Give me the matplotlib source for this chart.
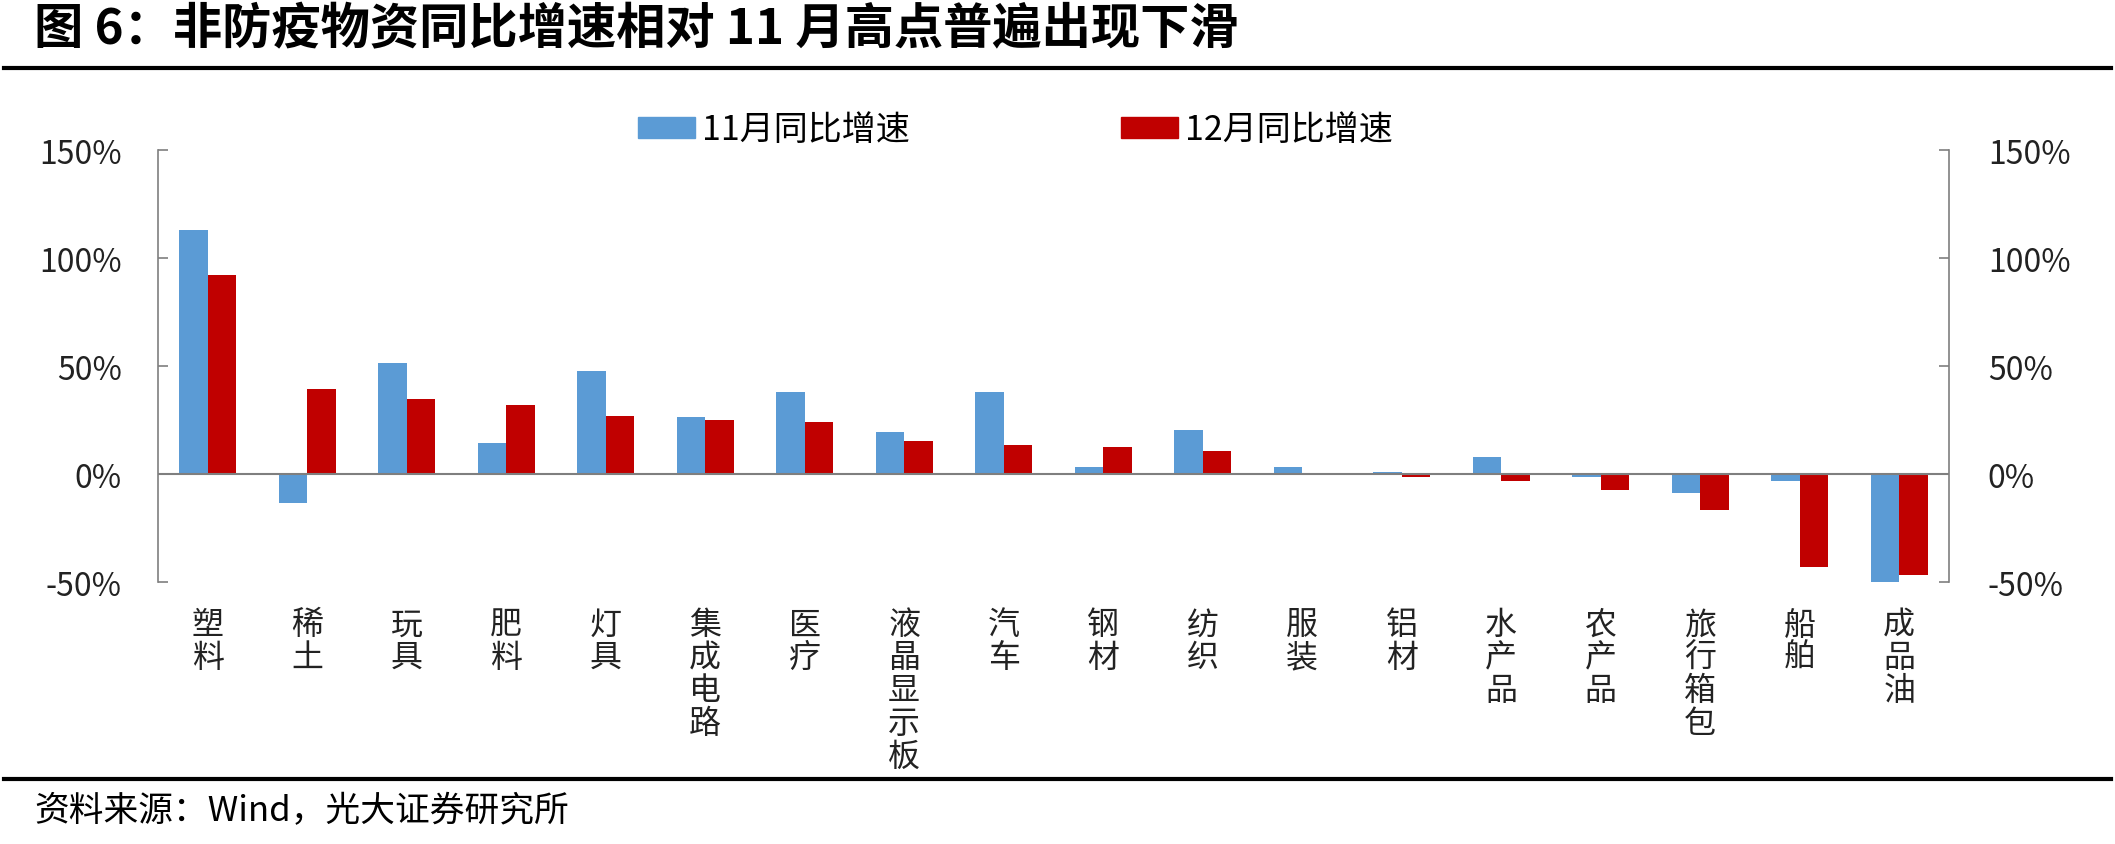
import numpy as np
import matplotlib
matplotlib.use('Agg')
from matplotlib import pyplot as plt
from matplotlib.patches import Patch

plt.rcParams['font.family'] = ['Noto Sans CJK SC', 'DejaVu Sans']

categories = ['塑料', '稀土', '玩具', '肥料', '灯具', '集成电路', '医疗', '液晶显示板', '汽车',
              '钢材', '纺织', '服装', '铝材', '水产品', '农产品', '旅行箱包', '船舶', '成品油']
nov_yoy = [113.2, -13.2, 51.6, 14.3, 47.6, 26.5, 37.8, 19.4, 37.8,
           3.4, 20.6, 3.4, 1.1, 7.9, -1.2, -8.7, -3.1, -51.2]
dec_yoy = [92.1, 39.4, 35.0, 32.2, 27.1, 25.1, 24.0, 15.5, 13.5,
           12.4, 10.9, 0.2, -1.4, -3.1, -7.4, -16.4, -42.8, -46.7]
series_names = ['11月同比增速', '12月同比增速']
yticks = [-50, 0, 50, 100, 150]

blue = '#5B9BD5'
red = '#C00000'
gray = '#7f7f7f'
fs = 23

fig = plt.figure(figsize=(21.15, 8.45), dpi=100)
ax = fig.add_axes([0.0747, 0.310, 0.8468, 0.511])

ind = np.arange(len(categories))
w = 0.285
ax.bar(ind - w / 2, nov_yoy, width=w, color=blue)
ax.bar(ind + w / 2, dec_yoy, width=w, color=red)
ax.axhline(0, color=gray, lw=1.5)

ax.set_xlim(-0.5, len(categories) - 0.5)
ax.set_ylim(-50, 150)
ax.set_yticks(yticks)
ax.set_yticklabels(['%d%%' % t for t in yticks])
ax.set_xticks(ind)
ax.set_xticklabels(['\n'.join(c) for c in categories], va='top', linespacing=1.03)
ax.tick_params(axis='x', length=0, pad=19, labelsize=fs, colors='#222222')
ax.tick_params(axis='y', direction='in', length=7, width=1.2, color=gray,
               pad=26, labelsize=fs, labelcolor='#222222')
for s in ['top', 'bottom', 'right']:
    ax.spines[s].set_visible(False)
ax.spines['left'].set_color(gray)
ax.spines['left'].set_linewidth(1.2)

ax2 = ax.twinx()
ax2.set_ylim(-50, 150)
ax2.set_yticks(yticks)
ax2.set_yticklabels(['%d%%' % t for t in yticks])
ax2.tick_params(axis='y', direction='in', length=7, width=1.2, color=gray,
                pad=28, labelsize=fs, labelcolor='#222222')
for s in ['top', 'bottom', 'left']:
    ax2.spines[s].set_visible(False)
ax2.spines['right'].set_color(gray)
ax2.spines['right'].set_linewidth(1.2)

handles = [Patch(color=blue), Patch(color=red)]
fig.legend(handles, series_names, loc='center left', bbox_to_anchor=(0.3017, 0.845),
           ncol=2, frameon=False, fontsize=24.5, handlelength=1.68, handleheight=0.56,
           handletextpad=0.2, columnspacing=6.2, borderpad=0, borderaxespad=0)

fig.text(0.016, 0.965, '图 6：非防疫物资同比增速相对 11 月高点普遍出现下滑',
         fontsize=35.5, fontweight='bold', va='center', ha='left')
fig.add_artist(plt.Line2D([0.002, 0.998], [0.918, 0.918], color='black', lw=3))
fig.add_artist(plt.Line2D([0.002, 0.998], [0.077, 0.077], color='black', lw=3))
fig.text(0.016, 0.040, '资料来源：Wind，光大证券研究所', fontsize=25, va='center', ha='left')

fig.savefig('out.png', dpi=100)
